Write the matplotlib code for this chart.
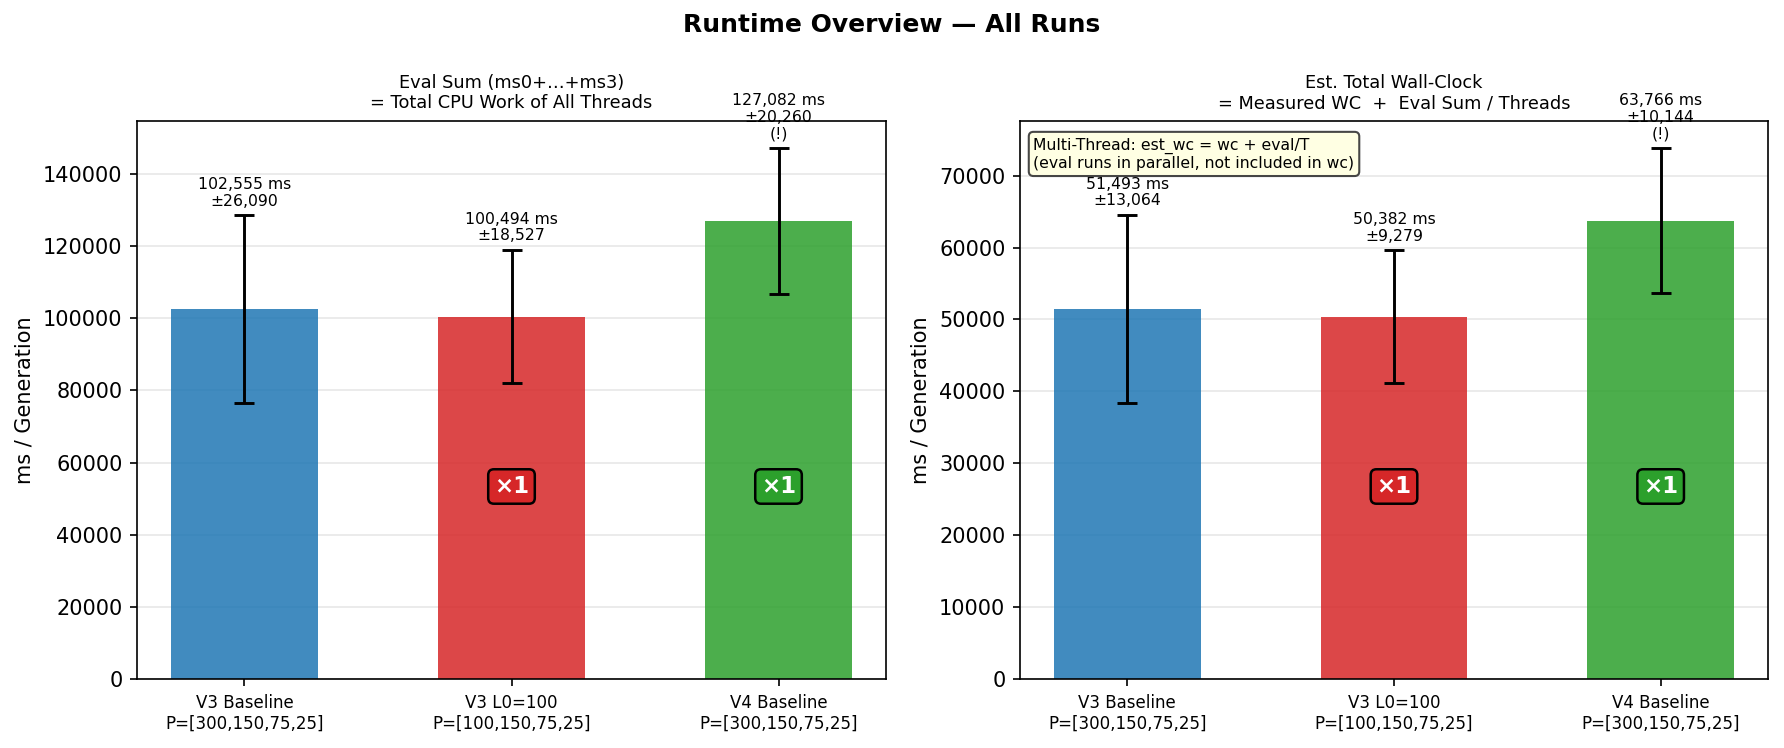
import matplotlib
matplotlib.use("Agg")
import matplotlib.pyplot as plt
import numpy as np

plt.rcParams['font.family'] = ['DejaVu Sans']

categories = ["V3 Baseline\nP=[300,150,75,25]",
              "V3 L0=100\nP=[100,150,75,25]",
              "V4 Baseline\nP=[300,150,75,25]"]
colors = ["#1f77b4", "#d62728", "#2ca02c"]

eval_mean = [102555, 100494, 127082]
eval_std = [26090, 18527, 20260]
wc_mean = [51493, 50382, 63766]
wc_std = [13064, 9279, 10144]
flags = ["", "", "\n(!)"]
badges = [None, "×1", "×1"]

fig = plt.figure(figsize=(1784 / 150, 748 / 150), dpi=150)
ax1 = fig.add_axes([137 / 1784, 1 - 679 / 748, (886 - 137) / 1784, (679 - 121) / 748])
ax2 = fig.add_axes([1020 / 1784, 1 - 679 / 748, (1768 - 1020) / 1784, (679 - 121) / 748])

fig.suptitle("Runtime Overview — All Runs", fontsize=12, fontweight="bold", y=0.982)


def draw(ax, means, stds, title):
    x = np.arange(len(categories))
    ax.bar(x, means, width=0.55, color=colors, alpha=0.85, zorder=2)
    ax.errorbar(x, means, yerr=stds, fmt="none", ecolor="black", capsize=5,
                elinewidth=1.4, capthick=1.4, zorder=3)
    top = max(m + s for m, s in zip(means, stds))
    ax.set_ylim(0, top * 1.05)
    for xi, m, s, f in zip(x, means, stds, flags):
        ax.text(xi, m + s + top * 0.012, f"{m:,} ms\n±{s:,}{f}", ha="center",
                va="bottom", fontsize=7.5, linespacing=1.12, zorder=4)
    for xi, b, c in zip(x, badges, colors):
        if b:
            ax.text(xi, top * 1.05 * 0.345, b, ha="center", va="center", fontsize=11,
                    fontweight="bold", color="white", zorder=5,
                    bbox=dict(boxstyle="round,pad=0.25", facecolor=c, edgecolor="black",
                              linewidth=1.2))
    ax.set_xticks(x)
    ax.set_xticklabels(categories, fontsize=8)
    ax.set_ylabel("ms / Generation", fontsize=10)
    ax.set_title(title, fontsize=8.5, pad=6)
    ax.yaxis.grid(True, alpha=0.3, zorder=0)
    ax.set_axisbelow(True)
    ax.tick_params(axis="y", labelsize=10)


draw(ax1, eval_mean, eval_std, "Eval Sum (ms0+…+ms3)\n= Total CPU Work of All Threads")
draw(ax2, wc_mean, wc_std, "Est. Total Wall-Clock\n= Measured WC  +  Eval Sum / Threads")

ax2.text(0.018, 0.97, "Multi-Thread: est_wc = wc + eval/T\n(eval runs in parallel, not included in wc)",
         transform=ax2.transAxes, ha="left", va="top", fontsize=7.5, zorder=6,
         bbox=dict(boxstyle="round,pad=0.3", facecolor="lightyellow", edgecolor="#333333",
                   alpha=0.9))

fig.savefig("out.png", dpi=150)
